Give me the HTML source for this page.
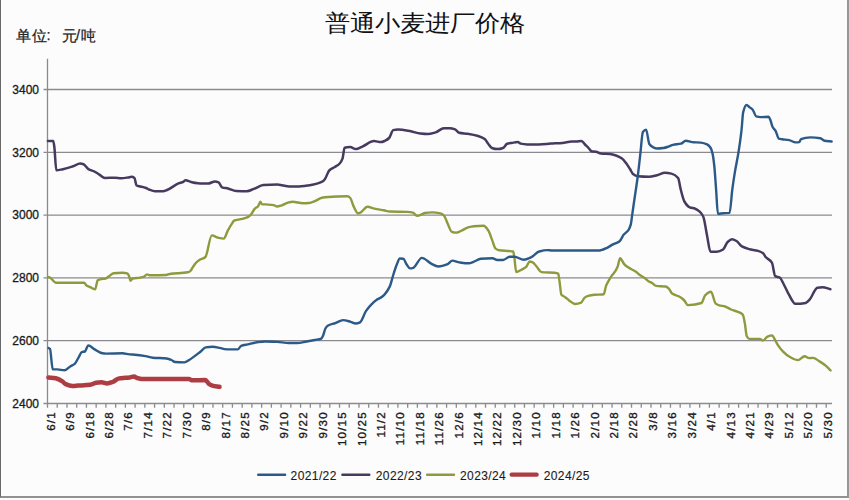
<!DOCTYPE html>
<html><head><meta charset="utf-8"><style>
html,body{margin:0;padding:0;background:#fcfcfd;}
body{width:849px;height:500px;overflow:hidden;position:relative;font-family:"Liberation Sans",sans-serif;}
#frame{position:absolute;left:0;top:0;width:849px;height:498px;box-sizing:border-box;border-left:1.3px solid #686868;border-right:2px solid #9a979a;border-bottom:2px solid #919191;}
#title{position:absolute;left:325px;top:7.1px;font-family:"Liberation Serif",serif;font-size:25px;color:#111;white-space:nowrap;letter-spacing:0px;transform:scaleY(0.91);transform-origin:0 16.4px;}
.u{position:absolute;-webkit-text-stroke:0.25px #222;top:26.5px;font-size:14.5px;color:#222;white-space:nowrap;letter-spacing:0px;}
svg{position:absolute;left:0;top:0;}
.ax{font-family:"Liberation Sans",sans-serif;font-size:12px;fill:#1a1a1a;stroke:#1a1a1a;stroke-width:0.3px;letter-spacing:0px;}
.axx{font-family:"Liberation Sans",sans-serif;font-size:11.5px;fill:#1a1a1a;stroke:#1a1a1a;stroke-width:0.35px;letter-spacing:1.2px;}
.lg{font-family:"Liberation Sans",sans-serif;font-size:12px;fill:#1a1a1a;stroke:#1a1a1a;stroke-width:0.1px;letter-spacing:0.4px;}
</style></head><body>
<div id="frame"></div>
<div id="title">普通小麦进厂价格</div>
<div class="u" style="left:15.5px">单</div><div class="u" style="left:31.5px">位</div><div class="u" style="left:46.6px">:</div><div class="u" style="left:61.8px">元</div><div class="u" style="left:76px">/</div><div class="u" style="left:81.2px">吨</div>
<svg width="849" height="500" viewBox="0 0 849 500">
<line x1="43.5" y1="89.5" x2="832" y2="89.5" stroke="#8b8b8f" stroke-width="1.3"/>
<line x1="43.5" y1="152.3" x2="832" y2="152.3" stroke="#8b8b8f" stroke-width="1.3"/>
<line x1="43.5" y1="215.1" x2="832" y2="215.1" stroke="#8b8b8f" stroke-width="1.3"/>
<line x1="43.5" y1="277.9" x2="832" y2="277.9" stroke="#8b8b8f" stroke-width="1.3"/>
<line x1="43.5" y1="340.7" x2="832" y2="340.7" stroke="#8b8b8f" stroke-width="1.3"/>
<line x1="47.5" y1="58.8" x2="47.5" y2="403.5" stroke="#8b8b8f" stroke-width="1.3"/>
<line x1="43.5" y1="403.5" x2="832" y2="403.5" stroke="#8b8b8f" stroke-width="1.3"/>
<path d="M47.50 403.5V407.7M57.23 403.5V407.7M66.97 403.5V407.7M76.70 403.5V407.7M86.44 403.5V407.7M96.17 403.5V407.7M105.90 403.5V407.7M115.64 403.5V407.7M125.37 403.5V407.7M135.10 403.5V407.7M144.84 403.5V407.7M154.57 403.5V407.7M164.31 403.5V407.7M174.04 403.5V407.7M183.77 403.5V407.7M193.51 403.5V407.7M203.24 403.5V407.7M212.97 403.5V407.7M222.71 403.5V407.7M232.44 403.5V407.7M242.18 403.5V407.7M251.91 403.5V407.7M261.64 403.5V407.7M271.38 403.5V407.7M281.11 403.5V407.7M290.84 403.5V407.7M300.58 403.5V407.7M310.31 403.5V407.7M320.05 403.5V407.7M329.78 403.5V407.7M339.51 403.5V407.7M349.25 403.5V407.7M358.98 403.5V407.7M368.71 403.5V407.7M378.45 403.5V407.7M388.18 403.5V407.7M397.92 403.5V407.7M407.65 403.5V407.7M417.38 403.5V407.7M427.12 403.5V407.7M436.85 403.5V407.7M446.58 403.5V407.7M456.32 403.5V407.7M466.05 403.5V407.7M475.79 403.5V407.7M485.52 403.5V407.7M495.25 403.5V407.7M504.99 403.5V407.7M514.72 403.5V407.7M524.45 403.5V407.7M534.19 403.5V407.7M543.92 403.5V407.7M553.65 403.5V407.7M563.39 403.5V407.7M573.12 403.5V407.7M582.86 403.5V407.7M592.59 403.5V407.7M602.32 403.5V407.7M612.06 403.5V407.7M621.79 403.5V407.7M631.52 403.5V407.7M641.26 403.5V407.7M650.99 403.5V407.7M660.73 403.5V407.7M670.46 403.5V407.7M680.19 403.5V407.7M689.93 403.5V407.7M699.66 403.5V407.7M709.40 403.5V407.7M719.13 403.5V407.7M728.86 403.5V407.7M738.60 403.5V407.7M748.33 403.5V407.7M758.06 403.5V407.7M767.80 403.5V407.7M777.53 403.5V407.7M787.27 403.5V407.7M797.00 403.5V407.7M806.73 403.5V407.7M816.47 403.5V407.7M826.20 403.5V407.7" stroke="#8b8b8f" stroke-width="1.3"/>
<text x="39" y="93.8" text-anchor="end" class="ax">3400</text>
<text x="39" y="156.60000000000002" text-anchor="end" class="ax">3200</text>
<text x="39" y="219.4" text-anchor="end" class="ax">3000</text>
<text x="39" y="282.2" text-anchor="end" class="ax">2800</text>
<text x="39" y="345.0" text-anchor="end" class="ax">2600</text>
<text x="39" y="407.8" text-anchor="end" class="ax">2400</text>
<text transform="translate(54.80,411.2) rotate(-90)" text-anchor="end" class="axx">6/1</text>
<text transform="translate(74.22,411.2) rotate(-90)" text-anchor="end" class="axx">6/9</text>
<text transform="translate(93.64,411.2) rotate(-90)" text-anchor="end" class="axx">6/18</text>
<text transform="translate(113.06,411.2) rotate(-90)" text-anchor="end" class="axx">6/28</text>
<text transform="translate(132.48,411.2) rotate(-90)" text-anchor="end" class="axx">7/6</text>
<text transform="translate(151.90,411.2) rotate(-90)" text-anchor="end" class="axx">7/14</text>
<text transform="translate(171.32,411.2) rotate(-90)" text-anchor="end" class="axx">7/22</text>
<text transform="translate(190.74,411.2) rotate(-90)" text-anchor="end" class="axx">7/30</text>
<text transform="translate(210.16,411.2) rotate(-90)" text-anchor="end" class="axx">8/9</text>
<text transform="translate(229.58,411.2) rotate(-90)" text-anchor="end" class="axx">8/17</text>
<text transform="translate(249.00,411.2) rotate(-90)" text-anchor="end" class="axx">8/25</text>
<text transform="translate(268.42,411.2) rotate(-90)" text-anchor="end" class="axx">9/2</text>
<text transform="translate(287.84,411.2) rotate(-90)" text-anchor="end" class="axx">9/10</text>
<text transform="translate(307.26,411.2) rotate(-90)" text-anchor="end" class="axx">9/22</text>
<text transform="translate(326.68,411.2) rotate(-90)" text-anchor="end" class="axx">9/30</text>
<text transform="translate(346.10,411.2) rotate(-90)" text-anchor="end" class="axx">10/15</text>
<text transform="translate(365.52,411.2) rotate(-90)" text-anchor="end" class="axx">10/25</text>
<text transform="translate(384.94,411.2) rotate(-90)" text-anchor="end" class="axx">11/2</text>
<text transform="translate(404.36,411.2) rotate(-90)" text-anchor="end" class="axx">11/10</text>
<text transform="translate(423.78,411.2) rotate(-90)" text-anchor="end" class="axx">11/18</text>
<text transform="translate(443.20,411.2) rotate(-90)" text-anchor="end" class="axx">11/26</text>
<text transform="translate(462.62,411.2) rotate(-90)" text-anchor="end" class="axx">12/6</text>
<text transform="translate(482.04,411.2) rotate(-90)" text-anchor="end" class="axx">12/14</text>
<text transform="translate(501.46,411.2) rotate(-90)" text-anchor="end" class="axx">12/22</text>
<text transform="translate(520.88,411.2) rotate(-90)" text-anchor="end" class="axx">12/30</text>
<text transform="translate(540.30,411.2) rotate(-90)" text-anchor="end" class="axx">1/10</text>
<text transform="translate(559.72,411.2) rotate(-90)" text-anchor="end" class="axx">1/18</text>
<text transform="translate(579.14,411.2) rotate(-90)" text-anchor="end" class="axx">1/26</text>
<text transform="translate(598.56,411.2) rotate(-90)" text-anchor="end" class="axx">2/10</text>
<text transform="translate(617.98,411.2) rotate(-90)" text-anchor="end" class="axx">2/18</text>
<text transform="translate(637.40,411.2) rotate(-90)" text-anchor="end" class="axx">2/28</text>
<text transform="translate(656.82,411.2) rotate(-90)" text-anchor="end" class="axx">3/8</text>
<text transform="translate(676.24,411.2) rotate(-90)" text-anchor="end" class="axx">3/16</text>
<text transform="translate(695.66,411.2) rotate(-90)" text-anchor="end" class="axx">3/24</text>
<text transform="translate(715.08,411.2) rotate(-90)" text-anchor="end" class="axx">4/1</text>
<text transform="translate(734.50,411.2) rotate(-90)" text-anchor="end" class="axx">4/13</text>
<text transform="translate(753.92,411.2) rotate(-90)" text-anchor="end" class="axx">4/21</text>
<text transform="translate(773.34,411.2) rotate(-90)" text-anchor="end" class="axx">4/29</text>
<text transform="translate(792.76,411.2) rotate(-90)" text-anchor="end" class="axx">5/12</text>
<text transform="translate(812.18,411.2) rotate(-90)" text-anchor="end" class="axx">5/20</text>
<text transform="translate(831.60,411.2) rotate(-90)" text-anchor="end" class="axx">5/30</text>
<path d="M48.00,276.80C48.87,277.20 49.73,277.49 50.60,278.00C52.37,279.04 54.13,282.70 55.90,282.70C65.33,282.70 74.77,282.70 84.20,282.70C84.97,282.70 85.73,285.12 86.50,285.60C87.50,286.22 88.50,286.34 89.50,286.80C90.27,287.15 91.03,287.64 91.80,288.00C92.90,288.52 94.00,289.40 95.10,289.40C95.97,289.40 96.83,280.86 97.70,280.30C98.87,279.54 100.03,279.31 101.20,279.10C102.60,278.85 104.00,278.89 105.40,278.60C106.37,278.40 107.33,277.42 108.30,276.80C110.07,275.67 111.83,273.53 113.60,273.30C116.53,272.91 119.47,272.70 122.40,272.70C124.00,272.70 125.60,272.88 127.20,273.30C127.77,273.45 128.33,274.52 128.90,275.60C129.43,276.62 129.97,280.70 130.50,280.70C131.17,280.70 131.83,278.79 132.50,278.60C135.00,277.90 137.50,278.04 140.00,277.60C141.37,277.36 142.73,277.12 144.10,276.60C145.07,276.23 146.03,274.40 147.00,274.40C147.80,274.40 148.60,275.20 149.40,275.20C155.03,275.20 160.67,275.16 166.30,275.00C167.40,274.97 168.50,274.18 169.60,274.00C175.67,273.01 181.73,273.46 187.80,272.30C188.60,272.15 189.40,271.70 190.20,271.10C191.03,270.48 191.87,268.60 192.70,267.40C193.80,265.82 194.90,263.97 196.00,262.80C197.00,261.74 198.00,260.86 199.00,260.20C201.13,258.80 203.27,258.86 205.40,257.00C207.53,255.14 209.67,235.40 211.80,235.40C213.93,235.40 216.07,237.36 218.20,237.80C220.07,238.18 221.93,238.60 223.80,238.60C225.13,238.60 226.47,233.03 227.80,230.60C229.40,227.68 231.00,224.93 232.60,222.60C233.10,221.87 233.60,220.82 234.10,220.60C236.27,219.65 238.43,219.74 240.60,219.20C243.17,218.56 245.73,218.17 248.30,216.90C249.27,216.42 250.23,215.23 251.20,214.10C252.37,212.73 253.53,210.03 254.70,208.80C255.90,207.54 257.10,207.32 258.30,205.90C259.00,205.07 259.70,201.80 260.40,201.80C260.87,201.80 261.33,204.01 261.80,204.10C262.97,204.32 264.13,204.30 265.30,204.40C268.07,204.64 270.83,204.68 273.60,205.10C274.77,205.28 275.93,206.50 277.10,206.50C278.67,206.50 280.23,205.78 281.80,205.30C284.17,204.57 286.53,202.95 288.90,202.40C290.07,202.13 291.23,201.80 292.40,201.80C295.93,201.80 299.47,203.20 303.00,203.20C304.97,203.20 306.93,203.12 308.90,203.00C310.87,202.88 312.83,201.94 314.80,201.20C317.17,200.31 319.53,198.06 321.90,197.70C326.87,196.95 331.83,196.70 336.80,196.50C340.33,196.36 343.87,196.20 347.40,196.20C348.37,196.20 349.33,197.04 350.30,198.00C351.30,198.99 352.30,203.58 353.30,205.60C354.87,208.77 356.43,213.30 358.00,213.30C358.77,213.30 359.53,212.98 360.30,212.70C362.67,211.84 365.03,206.80 367.40,206.80C369.77,206.80 372.13,208.10 374.50,208.60C377.63,209.27 380.77,209.70 383.90,210.30C385.87,210.68 387.83,211.41 389.80,211.50C395.70,211.78 401.60,211.63 407.50,211.90C409.27,211.98 411.03,212.26 412.80,212.70C414.37,213.09 415.93,215.90 417.50,215.90C418.87,215.90 420.23,214.95 421.60,214.40C422.67,213.97 423.73,213.16 424.80,213.00C427.20,212.63 429.60,212.40 432.00,212.40C434.80,212.40 437.60,212.79 440.40,213.40C441.60,213.66 442.80,214.46 444.00,215.60C445.20,216.74 446.40,220.90 447.60,223.40C449.00,226.31 450.40,231.31 451.80,231.80C453.20,232.29 454.60,232.60 456.00,232.60C457.60,232.60 459.20,231.63 460.80,231.00C463.20,230.05 465.60,228.08 468.00,227.40C470.00,226.84 472.00,226.35 474.00,226.20C477.20,225.97 480.40,225.80 483.60,225.80C485.20,225.80 486.80,228.27 488.40,230.60C489.60,232.35 490.80,236.60 492.00,239.60C493.20,242.60 494.40,247.69 495.60,248.60C496.80,249.51 498.00,250.01 499.20,250.20C502.40,250.70 505.60,250.69 508.80,251.00C510.27,251.14 511.73,251.10 513.20,251.50C513.60,251.61 514.00,255.47 514.40,258.00C515.00,261.80 515.60,272.10 516.20,272.10C517.97,272.10 519.73,270.63 521.50,269.70C523.07,268.88 524.63,268.20 526.20,266.80C527.37,265.76 528.53,261.50 529.70,261.50C530.70,261.50 531.70,261.88 532.70,262.30C534.07,262.87 535.43,265.28 536.80,266.80C538.37,268.54 539.93,271.94 541.50,272.10C545.83,272.55 550.17,272.32 554.50,272.70C555.73,272.81 556.97,272.93 558.20,273.60C558.67,273.85 559.13,279.06 559.60,282.10C560.20,286.00 560.80,294.07 561.40,294.80C562.57,296.22 563.73,296.09 564.90,296.90C566.30,297.87 567.70,299.41 569.10,300.40C571.10,301.81 573.10,304.00 575.10,304.00C577.10,304.00 579.10,303.45 581.10,302.60C582.30,302.09 583.50,298.50 584.70,297.60C585.87,296.73 587.03,296.10 588.20,295.80C590.33,295.26 592.47,295.00 594.60,294.80C597.67,294.51 600.73,294.69 603.80,294.20C604.50,294.09 605.20,288.16 605.90,286.30C606.83,283.83 607.77,282.38 608.70,280.70C609.87,278.60 611.03,276.40 612.20,275.00C612.67,274.44 613.13,274.17 613.60,273.60C614.97,271.94 616.33,269.75 617.70,266.50C618.50,264.60 619.30,258.20 620.10,258.20C621.47,258.20 622.83,262.64 624.20,264.10C625.37,265.35 626.53,266.28 627.70,267.10C630.47,269.04 633.23,269.89 636.00,271.80C637.17,272.61 638.33,273.85 639.50,274.70C641.33,276.03 643.17,276.85 645.00,278.20C646.17,279.06 647.33,280.46 648.50,281.20C649.70,281.96 650.90,282.30 652.10,283.00C653.47,283.80 654.83,285.72 656.20,285.90C659.33,286.31 662.47,286.08 665.60,286.50C666.60,286.63 667.60,287.45 668.60,288.30C669.77,289.29 670.93,292.80 672.10,293.60C674.47,295.23 676.83,295.23 679.20,296.50C680.77,297.34 682.33,298.53 683.90,300.00C685.27,301.28 686.63,305.10 688.00,305.10C692.50,305.10 697.00,304.57 701.50,303.00C702.70,302.58 703.90,296.47 705.10,295.30C707.07,293.39 709.03,291.80 711.00,291.80C712.57,291.80 714.13,302.37 715.70,303.60C716.87,304.52 718.03,304.95 719.20,305.30C721.17,305.88 723.13,305.93 725.10,306.50C727.07,307.07 729.03,308.67 731.00,309.50C733.73,310.65 736.47,311.08 739.20,312.40C740.40,312.98 741.60,313.32 742.80,314.80C743.47,315.62 744.13,319.57 744.80,323.00C745.43,326.25 746.07,334.74 746.70,336.00C747.57,337.73 748.43,338.90 749.30,338.90C752.77,338.90 756.23,338.90 759.70,338.90C760.80,338.90 761.90,340.60 763.00,340.60C764.50,340.60 766.00,337.34 767.50,336.70C769.03,336.05 770.57,335.40 772.10,335.40C772.97,335.40 773.83,337.88 774.70,339.30C775.77,341.05 776.83,343.50 777.90,345.10C779.63,347.70 781.37,349.90 783.10,351.60C785.27,353.73 787.43,355.65 789.60,356.80C792.43,358.30 795.27,360.10 798.10,360.10C800.27,360.10 802.43,356.20 804.60,356.20C806.10,356.20 807.60,358.10 809.10,358.10C810.40,358.10 811.70,357.90 813.00,357.90C815.17,357.90 817.33,360.09 819.50,361.40C821.67,362.71 823.83,364.11 826.00,365.90C827.53,367.17 829.07,368.97 830.60,370.50" fill="none" stroke="#8e9a3c" stroke-width="2.4" stroke-linejoin="round" stroke-linecap="round"/>
<path d="M47.90,141.00C49.67,141.00 51.43,141.00 53.20,141.00C53.57,141.00 53.93,144.02 54.30,146.50C54.97,151.01 55.63,170.20 56.30,170.20C58.20,170.20 60.10,169.74 62.00,169.40C65.67,168.74 69.33,167.49 73.00,166.30C75.40,165.52 77.80,163.60 80.20,163.60C81.30,163.60 82.40,163.93 83.50,164.30C85.13,164.85 86.77,168.14 88.40,169.10C90.60,170.40 92.80,170.69 95.00,171.80C96.47,172.54 97.93,173.69 99.40,174.60C101.23,175.73 103.07,177.90 104.90,177.90C108.27,177.90 111.63,177.80 115.00,177.80C117.00,177.80 119.00,178.20 121.00,178.20C123.33,178.20 125.67,177.82 128.00,177.50C129.17,177.34 130.33,176.80 131.50,176.80C132.50,176.80 133.50,177.24 134.50,178.00C135.17,178.51 135.83,185.14 136.50,185.50C137.33,185.95 138.17,185.98 139.00,186.20C141.33,186.83 143.67,187.17 146.00,188.00C147.00,188.35 148.00,189.13 149.00,189.50C151.00,190.25 153.00,191.20 155.00,191.20C157.67,191.20 160.33,191.20 163.00,191.20C164.33,191.20 165.67,190.50 167.00,190.00C171.00,188.51 175.00,184.69 179.00,183.20C180.33,182.70 181.67,182.57 183.00,182.00C183.87,181.63 184.73,180.20 185.60,180.20C187.43,180.20 189.27,181.61 191.10,182.00C194.77,182.77 198.43,183.60 202.10,183.60C204.07,183.60 206.03,183.60 208.00,183.60C210.33,183.60 212.67,181.40 215.00,181.40C216.20,181.40 217.40,181.84 218.60,182.40C219.77,182.94 220.93,186.86 222.10,187.30C224.07,188.05 226.03,188.03 228.00,188.50C230.73,189.15 233.47,190.75 236.20,190.90C239.73,191.09 243.27,191.20 246.80,191.20C249.17,191.20 251.53,189.75 253.90,188.90C257.03,187.78 260.17,185.35 263.30,185.10C268.03,184.72 272.77,184.50 277.50,184.50C279.07,184.50 280.63,185.03 282.20,185.30C284.53,185.70 286.87,186.44 289.20,186.50C291.80,186.56 294.40,186.60 297.00,186.60C300.73,186.60 304.47,186.03 308.20,185.50C312.87,184.84 317.53,183.98 322.20,181.70C323.13,181.24 324.07,180.12 325.00,178.90C326.40,177.07 327.80,171.87 329.20,170.50C331.07,168.68 332.93,168.25 334.80,167.00C336.43,165.91 338.07,165.22 339.70,163.50C340.63,162.52 341.57,161.10 342.50,158.60C343.20,156.72 343.90,147.87 344.60,147.70C346.47,147.24 348.33,147.10 350.20,147.10C352.07,147.10 353.93,149.10 355.80,149.10C358.13,149.10 360.47,147.30 362.80,146.30C366.53,144.70 370.27,141.10 374.00,141.10C376.33,141.10 378.67,142.10 381.00,142.10C382.40,142.10 383.80,141.33 385.20,140.70C386.50,140.11 387.80,139.32 389.10,138.00C390.47,136.61 391.83,130.48 393.20,130.10C394.80,129.66 396.40,129.40 398.00,129.40C402.30,129.40 406.60,130.50 410.90,131.30C414.03,131.88 417.17,133.27 420.30,133.60C422.67,133.85 425.03,134.10 427.40,134.10C430.13,134.10 432.87,133.20 435.60,132.40C438.37,131.59 441.13,128.20 443.90,128.20C445.87,128.20 447.83,128.20 449.80,128.20C451.57,128.20 453.33,128.76 455.10,129.40C456.47,129.89 457.83,132.36 459.20,132.70C461.97,133.39 464.73,133.36 467.50,133.80C471.03,134.37 474.57,134.95 478.10,136.00C480.30,136.65 482.50,137.49 484.70,139.10C485.87,139.95 487.03,142.34 488.20,143.80C489.40,145.30 490.60,147.59 491.80,148.00C493.77,148.67 495.73,149.10 497.70,149.10C499.47,149.10 501.23,148.63 503.00,148.00C504.37,147.51 505.73,144.25 507.10,143.80C508.67,143.29 510.23,143.15 511.80,142.90C513.77,142.59 515.73,142.10 517.70,142.10C518.67,142.10 519.63,143.39 520.60,143.60C522.77,144.07 524.93,144.40 527.10,144.40C531.03,144.40 534.97,144.40 538.90,144.40C542.83,144.40 546.77,143.85 550.70,143.60C554.63,143.35 558.57,143.24 562.50,142.90C565.63,142.63 568.77,141.50 571.90,141.50C573.27,141.50 574.63,141.50 576.00,141.50C577.83,141.50 579.67,141.00 581.50,141.00C582.67,141.00 583.83,143.33 585.00,144.50C586.17,145.67 587.33,146.79 588.50,148.00C589.50,149.03 590.50,150.95 591.50,151.20C593.00,151.57 594.50,151.51 596.00,151.80C597.67,152.12 599.33,153.33 601.00,153.50C604.00,153.81 607.00,153.72 610.00,154.00C612.00,154.19 614.00,154.83 616.00,155.50C618.00,156.17 620.00,157.08 622.00,158.50C623.33,159.45 624.67,161.29 626.00,163.00C627.33,164.71 628.67,166.89 630.00,169.00C631.00,170.58 632.00,173.22 633.00,174.00C634.60,175.24 636.20,176.15 637.80,176.30C641.53,176.64 645.27,176.80 649.00,176.80C651.67,176.80 654.33,175.84 657.00,175.20C659.67,174.56 662.33,172.80 665.00,172.80C667.13,172.80 669.27,173.15 671.40,173.60C673.63,174.07 675.87,175.20 678.10,178.10C679.00,179.27 679.90,186.43 680.80,189.80C682.00,194.29 683.20,199.47 684.40,201.50C686.20,204.54 688.00,206.69 689.80,207.40C691.60,208.11 693.40,208.05 695.20,208.70C696.70,209.24 698.20,210.32 699.70,211.70C700.90,212.80 702.10,214.15 703.30,216.80C704.50,219.45 705.70,228.87 706.90,234.70C708.10,240.53 709.30,251.80 710.50,251.80C712.60,251.80 714.70,251.80 716.80,251.80C718.90,251.80 721.00,250.80 723.10,249.50C724.60,248.57 726.10,243.38 727.60,242.00C729.07,240.65 730.53,239.20 732.00,239.20C733.50,239.20 735.00,240.15 736.50,241.00C738.30,242.02 740.10,245.40 741.90,246.40C744.30,247.74 746.70,248.47 749.10,249.10C752.10,249.89 755.10,250.01 758.10,250.90C759.90,251.43 761.70,252.09 763.50,253.60C764.13,254.13 764.77,255.92 765.40,256.70C767.57,259.37 769.73,259.14 771.90,262.60C773.00,264.36 774.10,275.58 775.20,276.20C776.70,277.05 778.20,276.75 779.70,277.50C781.00,278.15 782.30,281.65 783.60,284.00C785.33,287.14 787.07,291.47 788.80,294.40C790.97,298.06 793.13,303.80 795.30,303.80C798.77,303.80 802.23,303.52 805.70,302.90C807.00,302.67 808.30,300.97 809.60,299.60C812.20,296.86 814.80,288.06 817.40,287.70C819.13,287.46 820.87,287.30 822.60,287.30C825.20,287.30 827.80,288.57 830.40,289.20" fill="none" stroke="#463a5e" stroke-width="2.5" stroke-linejoin="round" stroke-linecap="round"/>
<path d="M48.50,348.00C49.00,348.30 49.50,348.39 50.00,348.90C50.90,349.83 51.80,369.12 52.70,369.20C54.37,369.35 56.03,369.30 57.70,369.40C60.03,369.54 62.37,370.30 64.70,370.30C66.67,370.30 68.63,367.41 70.60,366.20C71.97,365.36 73.33,365.05 74.70,363.90C76.10,362.72 77.50,359.11 78.90,356.80C79.87,355.20 80.83,352.45 81.80,352.10C82.80,351.74 83.80,351.85 84.80,351.50C85.97,351.09 87.13,345.40 88.30,345.40C90.27,345.40 92.23,347.98 94.20,349.10C96.93,350.65 99.67,352.94 102.40,353.30C103.60,353.46 104.80,353.60 106.00,353.60C111.47,353.60 116.93,353.30 122.40,353.30C124.77,353.30 127.13,354.21 129.50,354.40C131.33,354.54 133.17,354.56 135.00,354.70C138.53,354.96 142.07,355.50 145.60,356.10C147.97,356.50 150.33,357.47 152.70,357.70C157.40,358.16 162.10,357.99 166.80,358.50C168.37,358.67 169.93,359.35 171.50,360.00C172.67,360.48 173.83,361.89 175.00,362.00C178.17,362.29 181.33,362.40 184.50,362.40C186.07,362.40 187.63,360.92 189.20,360.00C193.13,357.68 197.07,354.27 201.00,351.20C202.57,349.98 204.13,347.66 205.70,347.40C208.03,347.02 210.37,346.80 212.70,346.80C215.07,346.80 217.43,347.44 219.80,347.90C221.37,348.21 222.93,348.96 224.50,349.10C226.33,349.27 228.17,349.40 230.00,349.40C232.57,349.40 235.13,349.40 237.70,349.40C238.87,349.40 240.03,346.37 241.20,345.90C243.37,345.03 245.53,344.89 247.70,344.40C250.83,343.69 253.97,342.72 257.10,342.30C259.83,341.93 262.57,341.50 265.30,341.50C269.23,341.50 273.17,341.70 277.10,341.90C281.03,342.10 284.97,343.00 288.90,343.00C291.63,343.00 294.37,343.00 297.10,343.00C300.27,343.00 303.43,342.04 306.60,341.50C309.33,341.04 312.07,340.54 314.80,340.00C316.97,339.57 319.13,339.57 321.30,338.60C321.90,338.33 322.50,336.88 323.10,335.60C323.87,333.96 324.63,329.84 325.40,328.50C326.17,327.16 326.93,326.16 327.70,325.70C330.23,324.20 332.77,324.02 335.30,323.10C337.87,322.17 340.43,320.10 343.00,320.10C345.53,320.10 348.07,321.11 350.60,321.80C352.30,322.26 354.00,323.50 355.70,323.50C357.13,323.50 358.57,322.97 360.00,322.30C361.97,321.38 363.93,314.15 365.90,311.20C367.60,308.65 369.30,306.58 371.00,304.80C372.70,303.02 374.40,301.39 376.10,300.20C378.10,298.80 380.10,298.37 382.10,296.80C384.63,294.81 387.17,291.69 389.70,286.60C390.83,284.32 391.97,279.04 393.10,275.50C394.23,271.96 395.37,268.02 396.50,265.30C397.63,262.58 398.77,258.50 399.90,258.50C401.03,258.50 402.17,258.61 403.30,258.80C404.43,258.99 405.57,262.96 406.70,264.50C407.83,266.04 408.97,268.40 410.10,268.40C411.13,268.40 412.17,268.11 413.20,267.80C416.07,266.95 418.93,257.90 421.80,257.90C424.93,257.90 428.07,262.08 431.20,263.60C433.57,264.74 435.93,266.50 438.30,266.50C441.43,266.50 444.57,265.36 447.70,264.10C449.27,263.47 450.83,260.60 452.40,260.60C454.77,260.60 457.13,262.06 459.50,262.40C462.63,262.84 465.77,263.30 468.90,263.30C470.47,263.30 472.03,262.36 473.60,261.80C475.97,260.95 478.33,259.00 480.70,258.80C484.63,258.48 488.57,258.30 492.50,258.30C494.07,258.30 495.63,260.00 497.20,260.00C499.17,260.00 501.13,260.00 503.10,260.00C505.30,260.00 507.50,256.80 509.70,256.80C511.27,256.80 512.83,256.80 514.40,256.80C517.53,256.80 520.67,259.70 523.80,259.70C526.17,259.70 528.53,258.44 530.90,257.40C533.67,256.18 536.43,252.26 539.20,251.50C541.93,250.75 544.67,250.10 547.40,250.10C548.97,250.10 550.53,250.50 552.10,250.50C567.80,250.50 583.50,250.50 599.20,250.50C599.80,250.50 600.40,250.33 601.00,250.20C603.00,249.76 605.00,248.74 607.00,247.80C609.00,246.86 611.00,245.45 613.00,244.40C615.20,243.25 617.40,242.90 619.60,241.20C621.00,240.12 622.40,236.32 623.80,234.60C625.40,232.63 627.00,232.20 628.60,229.80C629.33,228.70 630.07,227.15 630.80,224.40C631.27,222.65 631.73,218.03 632.20,214.80C632.80,210.65 633.40,206.37 634.00,202.20C635.27,193.39 636.53,185.81 637.80,176.00C638.60,169.80 639.40,162.10 640.20,155.20C641.10,147.43 642.00,133.27 642.90,132.00C643.97,130.49 645.03,129.60 646.10,129.60C647.17,129.60 648.23,142.43 649.30,144.00C650.53,145.82 651.77,146.61 653.00,147.20C654.33,147.83 655.67,148.50 657.00,148.50C659.13,148.50 661.27,148.27 663.40,148.00C665.27,147.77 667.13,147.03 669.00,146.40C670.33,145.95 671.67,145.09 673.00,144.80C675.67,144.22 678.33,144.33 681.00,143.70C682.60,143.32 684.20,140.80 685.80,140.80C687.93,140.80 690.07,141.90 692.20,142.10C695.07,142.37 697.93,142.31 700.80,142.60C702.90,142.81 705.00,143.42 707.10,144.40C708.30,144.96 709.50,146.09 710.70,148.00C711.30,148.95 711.90,150.88 712.50,153.40C713.10,155.92 713.70,160.53 714.30,166.00C714.90,171.47 715.50,181.54 716.10,189.50C716.70,197.46 717.30,213.80 717.90,213.80C719.70,213.80 721.50,213.32 723.30,213.20C725.40,213.06 727.50,213.13 729.60,212.90C730.50,212.80 731.40,196.30 732.30,189.50C733.20,182.70 734.10,176.86 735.00,171.40C736.20,164.11 737.40,159.19 738.60,151.60C739.57,145.49 740.53,138.86 741.50,130.30C742.07,125.28 742.63,114.29 743.20,112.10C744.30,107.86 745.40,105.00 746.50,105.00C747.57,105.00 748.63,106.59 749.70,107.40C750.70,108.16 751.70,108.62 752.70,109.70C753.87,110.96 755.03,116.06 756.20,116.40C757.77,116.85 759.33,117.10 760.90,117.10C763.47,117.10 766.03,116.80 768.60,116.80C769.17,116.80 769.73,118.45 770.30,119.70C771.03,121.32 771.77,125.39 772.50,126.80C773.53,128.79 774.57,129.14 775.60,130.90C776.67,132.72 777.73,138.24 778.80,138.60C779.90,138.97 781.00,139.03 782.10,139.20C784.47,139.56 786.83,139.66 789.20,140.10C791.37,140.51 793.53,142.40 795.70,142.40C796.87,142.40 798.03,142.31 799.20,142.10C799.80,141.99 800.40,139.45 801.00,139.20C804.13,137.90 807.27,137.40 810.40,137.40C813.73,137.40 817.07,137.72 820.40,138.30C821.77,138.54 823.13,140.43 824.50,140.70C826.87,141.18 829.23,141.23 831.60,141.50" fill="none" stroke="#2c5a88" stroke-width="2.4" stroke-linejoin="round" stroke-linecap="round"/>
<path d="M48.40,377.50C50.83,377.77 53.27,377.86 55.70,378.30C57.93,378.70 60.17,380.02 62.40,381.40C63.50,382.08 64.60,383.74 65.70,384.20C67.93,385.13 70.17,385.90 72.40,385.90C74.27,385.90 76.13,385.71 78.00,385.60C82.13,385.36 86.27,385.29 90.40,384.80C92.27,384.58 94.13,383.07 96.00,382.80C97.83,382.53 99.67,382.30 101.50,382.30C103.37,382.30 105.23,383.40 107.10,383.40C108.97,383.40 110.83,382.66 112.70,382.00C114.57,381.34 116.43,378.98 118.30,378.60C120.53,378.15 122.77,378.01 125.00,377.80C126.67,377.64 128.33,377.60 130.00,377.40C131.37,377.24 132.73,376.50 134.10,376.50C135.10,376.50 136.10,377.67 137.10,378.00C138.67,378.51 140.23,379.10 141.80,379.10C157.50,379.10 173.20,379.10 188.90,379.10C190.07,379.10 191.23,380.30 192.40,380.30C196.73,380.30 201.07,380.10 205.40,380.10C206.57,380.10 207.73,383.01 208.90,383.80C210.10,384.62 211.30,385.28 212.50,385.60C214.83,386.23 217.17,386.40 219.50,386.80" fill="none" stroke="#ad3d42" stroke-width="4.5" stroke-linejoin="round" stroke-linecap="round"/>
<line x1="258.2" y1="474.7" x2="285.1" y2="474.7" stroke="#2c5a88" stroke-width="2.4" stroke-linecap="round"/>
<text x="290.6" y="479.7" class="lg">2021/22</text>
<line x1="342.4" y1="474.7" x2="369.3" y2="474.7" stroke="#463a5e" stroke-width="2.4" stroke-linecap="round"/>
<text x="375.8" y="479.7" class="lg">2022/23</text>
<line x1="427.09999999999997" y1="474.7" x2="454.0" y2="474.7" stroke="#8e9a3c" stroke-width="2.4" stroke-linecap="round"/>
<text x="460" y="479.7" class="lg">2023/24</text>
<line x1="511.6" y1="474.7" x2="536.6999999999999" y2="474.7" stroke="#ad3d42" stroke-width="4.2" stroke-linecap="round"/>
<text x="543.7" y="479.7" class="lg">2024/25</text>
</svg>
</body></html>
